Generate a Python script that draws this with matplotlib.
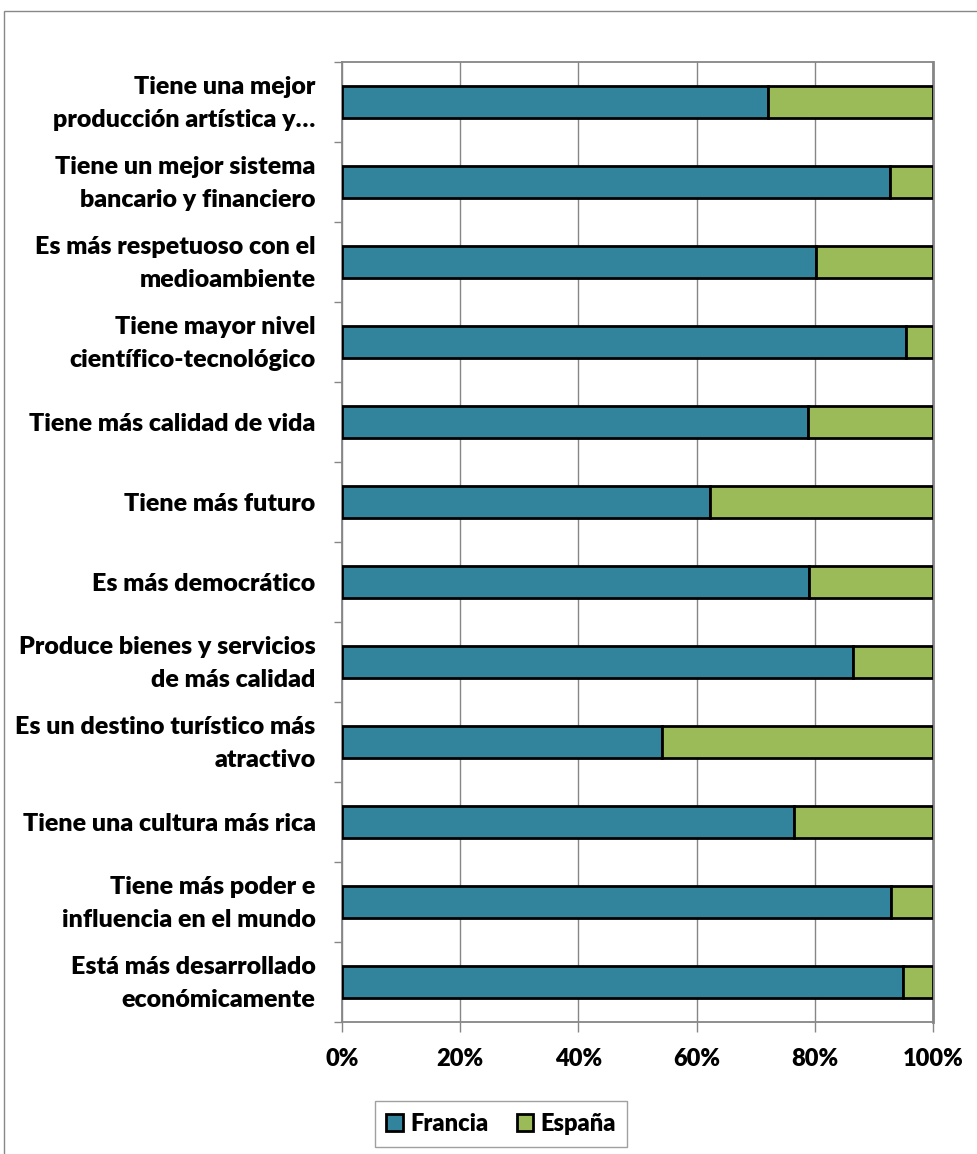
import matplotlib
matplotlib.use("Agg")
import matplotlib.pyplot as plt
from matplotlib.patches import Rectangle, Patch
from matplotlib.ticker import FixedLocator, FuncFormatter
from matplotlib.transforms import ScaledTranslation

plt.rcParams['font.family'] = ['Lato', 'DejaVu Sans']
plt.rcParams['font.weight'] = 'bold'

# Categories listed from bottom to top (as drawn)
categories = [
    "Está más desarrollado\neconómicamente",
    "Tiene más poder e\ninfluencia en el mundo",
    "Tiene una cultura más rica",
    "Es un destino turístico más\natractivo",
    "Produce bienes y servicios\nde más calidad",
    "Es más democrático",
    "Tiene más futuro",
    "Tiene más calidad de vida",
    "Tiene mayor nivel\ncientífico-tecnológico",
    "Es más respetuoso con el\nmedioambiente",
    "Tiene un mejor sistema\nbancario y financiero",
    "Tiene una mejor\nproducción artística y…",
]
francia = [94.9, 92.9, 76.5, 54.1, 86.4, 79.0, 62.3, 78.8, 95.4, 80.2, 92.7, 72.0]
espana = [5.1, 7.1, 23.5, 45.9, 13.6, 21.0, 37.7, 21.2, 4.6, 19.8, 7.3, 28.0]
series_names = ["Francia", "España"]
xticks = [0, 20, 40, 60, 80, 100]

c_fr = "#31849B"
c_es = "#9BBB59"
grid_c = "#868686"

W, H = 978, 1154
fig = plt.figure(figsize=(W / 100, H / 100), dpi=100)
ax = fig.add_axes([342 / W, 1 - 1022 / H, (933 - 342) / W, (1022 - 62) / H])

y = list(range(len(categories)))
ax.barh(y, francia, height=0.4, color=c_fr, edgecolor="black", linewidth=2.0, zorder=3)
ax.barh(y, espana, left=francia, height=0.4, color=c_es, edgecolor="black", linewidth=2.0, zorder=3)

ax.set_xlim(0, 100)
ax.set_ylim(-0.5, len(categories) - 0.5)
ax.xaxis.set_major_locator(FixedLocator(xticks))
ax.xaxis.set_major_formatter(FuncFormatter(lambda v, p: f"{int(v)}%"))
ax.set_yticks(y)
ax.set_yticklabels(categories, fontsize=18, fontweight="heavy", linespacing=1.6)
ax.yaxis.set_minor_locator(FixedLocator([k - 0.5 for k in range(len(categories) + 1)]))
ax.tick_params(axis="y", which="major", length=0, pad=19)
ax.tick_params(axis="y", which="minor", length=6, color=grid_c, width=1)
ax.tick_params(axis="x", which="major", length=7, color=grid_c, width=1, labelsize=17, pad=12)
for lab in ax.get_xticklabels():
    lab.set_fontweight("heavy")
shift = ScaledTranslation(0, 0.055, fig.dpi_scale_trans)
for lab in ax.get_yticklabels():
    if "\n" in lab.get_text():
        lab.set_transform(lab.get_transform() + shift)

ax.grid(axis="x", color=grid_c, linewidth=1, zorder=0)
ax.set_axisbelow(True)
for s in ax.spines.values():
    s.set_color(grid_c)
    s.set_linewidth(1.3)
ax.spines["right"].set_linewidth(2)

# chart border
fig.patches.append(Rectangle((4 / W, -0.1), 1.2, 1.1 - 11 / H, transform=fig.transFigure,
                             fill=False, edgecolor="#888888", linewidth=1))

handles = [Patch(facecolor=c_fr, edgecolor="black", linewidth=2.0),
           Patch(facecolor=c_es, edgecolor="black", linewidth=2.0)]
leg = fig.legend(handles, series_names, loc="center", bbox_to_anchor=(501 / W, 1 - 1124 / H),
                 ncol=2, frameon=True, fancybox=False, edgecolor="#888888",
                 prop={"weight": "heavy", "size": 17}, handlelength=0.7, handleheight=0.7,
                 handletextpad=0.3, columnspacing=1.2, borderpad=0.5)
leg.get_frame().set_linewidth(1)

fig.savefig("out.png", dpi=100, facecolor="white")
